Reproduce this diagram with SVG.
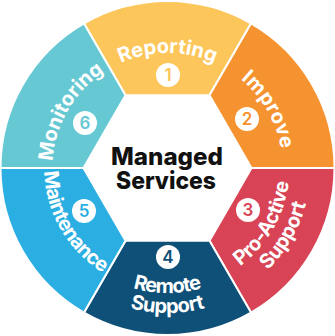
<svg xmlns="http://www.w3.org/2000/svg" width="335" height="336" viewBox="0 0 335 336">
<style>
.seg{stroke:#fff;stroke-width:2;stroke-linejoin:miter}
.lbl{font-family:Inter,Lato,"Noto Sans",sans-serif;font-weight:700;font-size:20px;fill:#fff}
.num{fill:#fff}
.digit{font-family:Inter,Lato,"Noto Sans",sans-serif;font-weight:600;font-size:17px;text-anchor:middle}
.center{font-family:Inter,Lato,"Noto Sans",sans-serif;font-weight:800;font-size:24px;fill:#111;text-anchor:middle}
</style>
<defs>
<path id="pRep" d="M67.9,110.5 A115,115 0 0 1 267.1,110.5"/>
<path id="pImp" d="M167.5,53 A115,115 0 0 1 267.1,225.5"/>
<path id="pMon" d="M67.9,225.5 A115,115 0 0 1 167.5,53"/>
<path id="pMai" d="M60.8,106.5 A123,123 0 0 0 167.5,291"/>
<path id="pRem1" d="M59.2,230.5 A125,125 0 0 0 275.8,230.5"/>
<path id="pRem2" d="M41.9,240.5 A145,145 0 0 0 293.1,240.5"/>
<path id="pPro1" d="M167.5,290 A122,122 0 0 0 273.2,107"/>
<path id="pPro2" d="M167.5,311 A143,143 0 0 0 291.4,96.5"/>
</defs>
<rect width="335" height="336" fill="#fff"/>
<g id="reporting">
<path class="seg" fill="#FDC65B" d="M209.5,95.3 L251,23.4 A167,167 0 0 0 84,23.4 L125.5,95.3 Z"/>
<text class="lbl"><textPath href="#pRep" startOffset="50%" text-anchor="middle" textLength="96">Reporting</textPath></text>
<circle class="num" cx="168" cy="75" r="12"/>
<text class="digit" x="168" y="81" fill="#FDC65B">1</text>
</g>
<g id="improve">
<path class="seg" fill="#F69331" d="M251.5,168 L334.5,168 A167,167 0 0 0 251,23.4 L209.5,95.3 Z"/>
<text class="lbl"><textPath href="#pImp" startOffset="50%" text-anchor="middle" textLength="82">Improve</textPath></text>
<circle class="num" cx="247" cy="119" r="12"/>
<text class="digit" x="247" y="125" fill="#F69331">2</text>
</g>
<g id="proactive">
<path class="seg" fill="#D84455" d="M251.5,168 L334.5,168 A167,167 0 0 1 251,312.6 L209.5,240.7 Z"/>
<text class="lbl"><textPath href="#pPro1" startOffset="50%" text-anchor="middle" textLength="100">Pro-Active</textPath></text>
<text class="lbl"><textPath href="#pPro2" startOffset="50%" text-anchor="middle" textLength="78">Support</textPath></text>
<circle class="num" cx="248" cy="210" r="12"/>
<text class="digit" x="248" y="216" fill="#D84455">3</text>
</g>
<g id="remote">
<path class="seg" fill="#0F5079" d="M209.5,240.7 L251,312.6 A167,167 0 0 1 84,312.6 L125.5,240.7 Z"/>
<text class="lbl"><textPath href="#pRem1" startOffset="50%" text-anchor="middle" textLength="70">Remote</textPath></text>
<text class="lbl"><textPath href="#pRem2" startOffset="50%" text-anchor="middle" textLength="76">Support</textPath></text>
<circle class="num" cx="168" cy="257" r="12"/>
<text class="digit" x="168" y="263" fill="#0F5079">4</text>
</g>
<g id="maintenance">
<path class="seg" fill="#2BAEE2" d="M125.5,240.7 L84,312.6 A167,167 0 0 1 0.5,168 L83.5,168 Z"/>
<text class="lbl"><textPath href="#pMai" startOffset="50%" text-anchor="middle" textLength="122">Maintenance</textPath></text>
<circle class="num" cx="84" cy="211" r="12"/>
<text class="digit" x="84" y="217" fill="#2BAEE2">5</text>
</g>
<g id="monitoring">
<path class="seg" fill="#66C8D3" d="M83.5,168 L0.5,168 A167,167 0 0 1 84,23.4 L125.5,95.3 Z"/>
<text class="lbl"><textPath href="#pMon" startOffset="50%" text-anchor="middle" textLength="107">Monitoring</textPath></text>
<circle class="num" cx="85" cy="123" r="12"/>
<text class="digit" x="85" y="129" fill="#66C8D3">6</text>
</g>
<g id="managed-services">
<text class="center" x="167" y="165" textLength="112" lengthAdjust="spacingAndGlyphs">Managed</text>
<text class="center" x="166" y="189" textLength="100" lengthAdjust="spacingAndGlyphs">Services</text>
</g>
<g id="connectors"></g>
</svg>
